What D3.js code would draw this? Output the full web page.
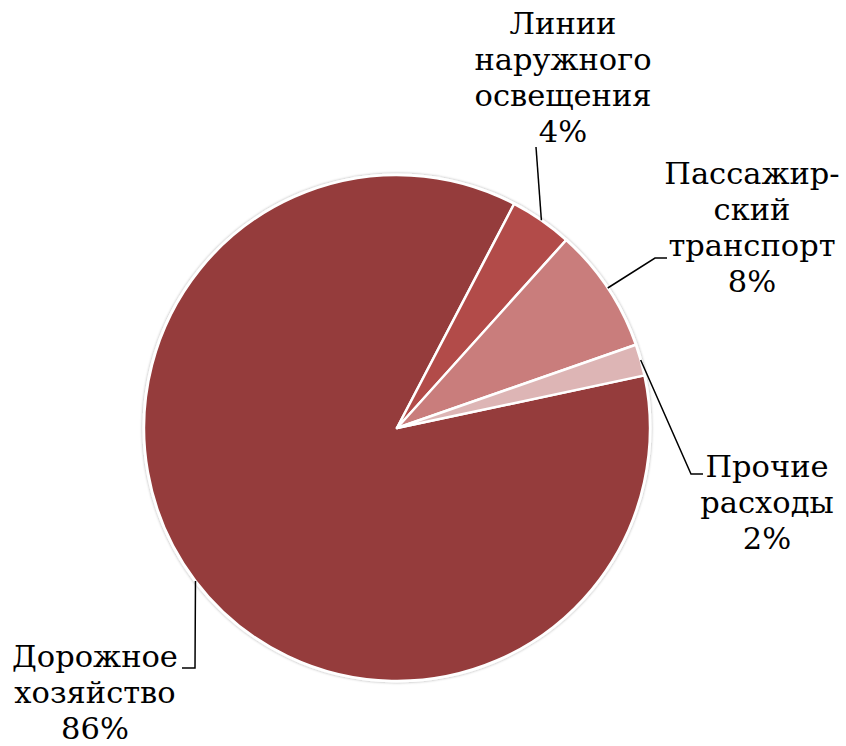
<!DOCTYPE html>
<html>
<head>
<meta charset="utf-8">
<script src="https://cdn.jsdelivr.net/npm/d3@7"></script>
<style>
  body { margin: 0; background: #fff; }
  text { font-family: "DejaVu Serif", "Liberation Serif", serif; font-size: 30.5px; fill: #000; }
</style>
</head>
<body>
<script>
// data
const categories = ['Дорожное хозяйство', 'Линии наружного освещения', 'Пассажирский транспорт', 'Прочие расходы'];
const values = [86, 4, 8, 2];
const labelLines = [
    ['Дорожное', 'хозяйство'],
    ['Линии', 'наружного', 'освещения'],
    ['Пассажир-', 'ский', 'транспорт'],
    ['Прочие', 'расходы']
];
const colors = ['#953c3c', '#b24b49', '#c97d7c', '#ddb5b5'];

// label placement (text anchor centre, first baseline, elbow + end of leader)
const labelPos = [
    { x: 95, y: 667, elbow: [195, 668], end: [182, 668] },
    { x: 563, y: 34, elbow: [536, 147], end: [536, 147] },
    { x: 752, y: 184, elbow: [655, 258], end: [667, 258] },
    { x: 767, y: 477, elbow: [691, 474], end: [703, 474] }
];
const lineStep = 36;

const width = 846, height = 746;
const cx = 397, cy = 428, radius = 253;

const svg = d3.select('body').append('svg')
    .attr('width', width)
    .attr('height', height);

const defs = svg.append('defs');
const shadow = defs.append('filter').attr('id', 'shadow')
    .attr('x', '-10%').attr('y', '-10%').attr('width', '120%').attr('height', '120%');
shadow.append('feGaussianBlur').attr('in', 'SourceAlpha').attr('stdDeviation', 1.5);
shadow.append('feComponentTransfer').append('feFuncA').attr('type', 'linear').attr('slope', 0.35);
const merge = shadow.append('feMerge');
merge.append('feMergeNode');
merge.append('feMergeNode').attr('in', 'SourceGraphic');

const startAngle = 78 * Math.PI / 180;
const pie = d3.pie()
    .sort(null)
    .startAngle(startAngle)
    .endAngle(startAngle + 2 * Math.PI);

const arcs = pie(values);
const arc = d3.arc().innerRadius(0).outerRadius(radius);

const g = svg.append('g').attr('transform', `translate(${cx},${cy})`);

// gray halo around the pie
g.append('circle')
    .attr('r', radius + 1.5)
    .attr('fill', '#fff')
    .attr('filter', 'url(#shadow)');

g.selectAll('path.slice')
    .data(arcs)
    .enter().append('path')
    .attr('class', 'slice')
    .attr('d', arc)
    .attr('fill', (d, i) => colors[i])
    .attr('stroke', '#fff')
    .attr('stroke-width', 2.5)
    .attr('stroke-linejoin', 'round');

// leader lines from the outer edge at the slice's middle angle
svg.append('g').selectAll('polyline')
    .data(arcs)
    .enter().append('polyline')
    .attr('points', (d, i) => {
        const a = (d.startAngle + d.endAngle) / 2;
        const p = [cx + radius * Math.sin(a), cy - radius * Math.cos(a)];
        const lp = labelPos[i];
        return [p, lp.elbow, lp.end].map(q => q.join(',')).join(' ');
    })
    .attr('fill', 'none')
    .attr('stroke', '#000')
    .attr('stroke-width', 1.5);

// labels
const fmt = d3.format('.0%');
const total = d3.sum(values);
const labels = svg.append('g').selectAll('text')
    .data(arcs)
    .enter().append('text')
    .attr('text-anchor', 'middle')
    .attr('x', (d, i) => labelPos[i].x)
    .attr('y', (d, i) => labelPos[i].y);

labels.each(function(d, i) {
    const t = d3.select(this);
    const lines = labelLines[i].concat([fmt(values[i] / total)]);
    lines.forEach((line, j) => {
        t.append('tspan')
            .attr('x', labelPos[i].x)
            .attr('dy', j === 0 ? 0 : lineStep)
            .text(line);
    });
});
</script>
</body>
</html>
